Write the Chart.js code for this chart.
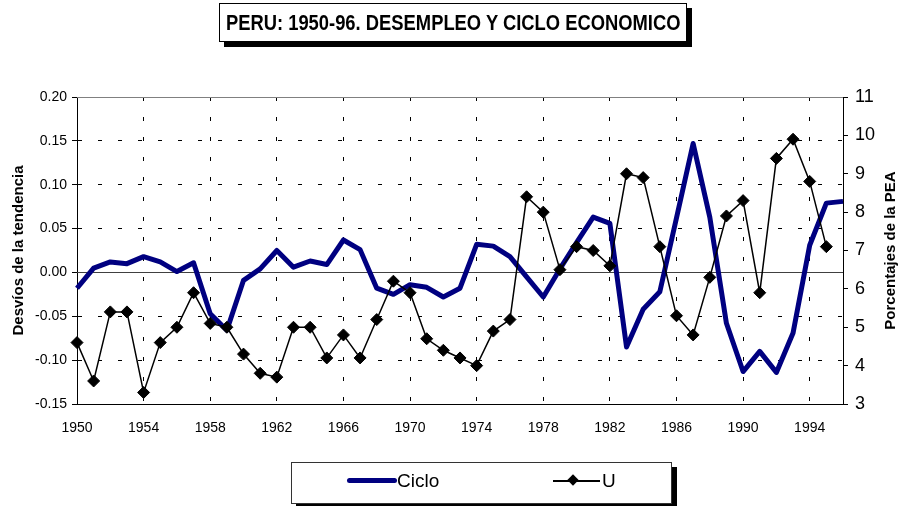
<!DOCTYPE html>
<html>
<head>
<meta charset="utf-8">
<script src="https://cdn.jsdelivr.net/npm/chart.js@4.4.0/dist/chart.umd.min.js"></script>
<style>
  body { margin: 0; background: #fff; font-family: Arial, "Liberation Sans", sans-serif; }
  #wrap { position: relative; width: 898px; height: 506px; overflow: hidden; }
  #chart { position: absolute; left: 0; top: 0; }
  .title {
    position: absolute; left: 219px; top: 3px; width: 466px; height: 37px;
    border: 1px solid #000; box-shadow: 5px 5px 0 #000; background: #fff;
    display: flex; align-items: center; justify-content: center; overflow: visible;
  }
  .title span {
    display: inline-block; white-space: nowrap; font-weight: bold; font-size: 22px;
    transform: scaleX(0.835); color: #000;
  }
  .legend {
    position: absolute; left: 291px; top: 462px; width: 379px; height: 40px;
    border: 1px solid #333; box-shadow: 5px 5px 0 #000; background: #fff;
  }
  .lg { position: absolute; }
  .lg-text { font-size: 19px; line-height: 20px; top: 471px; color: #000; }
</style>
</head>
<body>
<div id="wrap">
  <canvas id="chart" width="898" height="506"></canvas>
  <div class="title"><span>PERU: 1950-96. DESEMPLEO Y CICLO ECONOMICO</span></div>
  <div class="legend"></div>
  <div class="lg" style="left:347px; top:478px; width:50px; height:5px; background:#000080; border-radius:3px;"></div>
  <div class="lg lg-text" style="left:397px;">Ciclo</div>
  <div class="lg" style="left:553px; top:480px; width:47px; height:2px; background:#000;"></div>
  <div class="lg" style="left:569px; top:476px; width:8px; height:8px; background:#000; transform:rotate(45deg);"></div>
  <div class="lg lg-text" style="left:602px;">U</div>
</div>
<script>
// años (categorías del eje X)
const years = ['1950','1951','1952','1953','1954','1955','1956','1957','1958','1959',
  '1960','1961','1962','1963','1964','1965','1966','1967','1968','1969',
  '1970','1971','1972','1973','1974','1975','1976','1977','1978','1979',
  '1980','1981','1982','1983','1984','1985','1986','1987','1988','1989',
  '1990','1991','1992','1993','1994','1995','1996'];

// etiquetas visibles del eje X
const yearTicks = ['1950','1954','1958','1962','1966','1970','1974','1978','1982','1986','1990','1994'];

// Ciclo: desvios de la tendencia (eje izquierdo)
const ciclo = [-0.018, 0.005, 0.012, 0.010, 0.018, 0.012, 0.001, 0.011, -0.047, -0.066,
  -0.009, 0.004, 0.025, 0.006, 0.013, 0.009, 0.037, 0.026, -0.018, -0.025,
  -0.014, -0.017, -0.028, -0.018, 0.032, 0.030, 0.018, -0.005, -0.028, 0.004,
  0.034, 0.063, 0.056, -0.085, -0.042, -0.022, 0.062, 0.147, 0.063, -0.058,
  -0.113, -0.090, -0.114, -0.069, 0.031, 0.079, 0.081];

// U: desempleo, porcentajes de la PEA (eje derecho)
const desempleo = [4.6, 3.6, 5.4, 5.4, 3.3, 4.6, 5.0, 5.9, 5.1, 5.0,
  4.3, 3.8, 3.7, 5.0, 5.0, 4.2, 4.8, 4.2, 5.2, 6.2,
  5.9, 4.7, 4.4, 4.2, 4.0, 4.9, 5.2, 8.4, 8.0, 6.5,
  7.1, 7.0, 6.6, 9.0, 8.9, 7.1, 5.3, 4.8, 6.3, 7.9,
  8.3, 5.9, 9.4, 9.9, 8.8, 7.1, null];

const leftTitle = 'Desvíos de la tendencia';
const rightTitle = 'Porcentajes de la PEA';

Chart.defaults.font.family = 'Arial, "Liberation Sans", sans-serif';
Chart.defaults.color = '#000';

// linea del cero, borde superior y titulos de ejes
const framePlugin = {
  id: 'frame',
  beforeDatasetsDraw(chart) {
    const { ctx, chartArea: a, scales } = chart;
    const y0 = Math.round(scales.y.getPixelForValue(0)) + 0.5;
    ctx.save();
    ctx.lineWidth = 1;
    ctx.strokeStyle = '#404040';
    ctx.beginPath();
    ctx.moveTo(a.left, y0);
    ctx.lineTo(a.right, y0);
    ctx.stroke();
    ctx.strokeStyle = '#808080';
    ctx.beginPath();
    ctx.moveTo(a.left, a.top + 0.5);
    ctx.lineTo(a.right, a.top + 0.5);
    ctx.stroke();
    ctx.restore();
  },
  afterDraw(chart) {
    const { ctx, chartArea: a } = chart;
    const cy = (a.top + a.bottom) / 2;
    ctx.save();
    ctx.fillStyle = '#000';
    ctx.font = 'bold 15px Arial, "Liberation Sans", sans-serif';
    ctx.textAlign = 'center';
    ctx.textBaseline = 'middle';
    [[19, leftTitle], [891, rightTitle]].forEach(function (t) {
      ctx.save();
      ctx.translate(t[0], cy);
      ctx.rotate(-Math.PI / 2);
      ctx.fillText(t[1], 0, 0);
      ctx.restore();
    });
    ctx.restore();
  }
};

new Chart(document.getElementById('chart'), {
  type: 'line',
  data: {
    labels: years,
    datasets: [
      {
        label: 'Ciclo',
        data: ciclo,
        yAxisID: 'y',
        borderColor: '#000080',
        backgroundColor: '#000080',
        borderWidth: 5,
        borderJoinStyle: 'round',
        pointRadius: 0,
        tension: 0,
        order: 2
      },
      {
        label: 'U',
        data: desempleo,
        yAxisID: 'y1',
        borderColor: '#000',
        backgroundColor: '#000',
        borderWidth: 1.5,
        pointStyle: 'rectRot',
        pointRadius: 6,
        pointBackgroundColor: '#000',
        pointBorderColor: '#000',
        pointBorderWidth: 1,
        tension: 0,
        order: 1
      }
    ]
  },
  options: {
    responsive: false,
    animation: false,
    layout: { padding: { top: 97, left: 0, right: 0, bottom: 0 } },
    plugins: {
      legend: { display: false },
      tooltip: { enabled: false }
    },
    scales: {
      x: {
        offset: false,
        afterFit: function (s) { s.height = 102; },
        border: { color: '#000', width: 1, dash: [4, 16] },
        grid: {
          drawTicks: false,
          color: function (c) { return c.index % 4 === 0 ? '#000' : 'rgba(0,0,0,0)'; }
        },
        ticks: {
          autoSkip: false,
          maxRotation: 0,
          padding: 16,
          font: { size: 14 },
          callback: function (v, i) {
            const lab = years[i];
            return yearTicks.includes(lab) ? lab : '';
          }
        }
      },
      y: {
        position: 'left',
        min: -0.15,
        max: 0.20,
        afterFit: function (s) { s.width = 77; },
        border: { color: '#000', width: 1, dash: [4, 16] },
        grid: {
          tickLength: 5,
          tickColor: '#000',
          color: function (c) {
            return c.tick && Math.abs(c.tick.value) < 1e-9 ? 'rgba(0,0,0,0)' : '#000';
          }
        },
        ticks: {
          stepSize: 0.05,
          padding: 5,
          font: { size: 14 },
          callback: function (v) { return v.toFixed(2); }
        }
      },
      y1: {
        position: 'right',
        min: 3,
        max: 11,
        afterFit: function (s) { s.width = 55; },
        border: { color: '#000', width: 1 },
        grid: { drawOnChartArea: false, tickLength: 5, tickColor: '#000' },
        ticks: { stepSize: 1, padding: 7, font: { size: 18 } }
      }
    }
  },
  plugins: [framePlugin]
});
</script>
</body>
</html>
